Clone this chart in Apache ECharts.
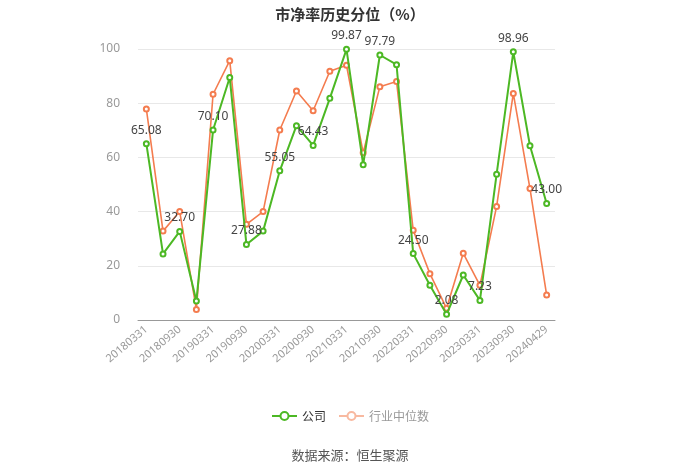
<!DOCTYPE html>
<html><head><meta charset="utf-8">
<script src="https://cdn.jsdelivr.net/npm/echarts@6/dist/echarts.min.js"></script>
<style>html,body{margin:0;padding:0;background:#fff}#c{width:700px;height:473px}</style>
</head><body><div id="c"></div>
<script>
var categories = ["20180331","20180630","20180930","20181231","20190331","20190630","20190930","20191231","20200331","20200630","20200930","20201231","20210331","20210630","20210930","20211231","20220331","20220630","20220930","20221231","20230331","20230630","20230930","20231231","20240429"];
var companyValues = [65.08,24.4,32.70,7.0,70.10,89.5,27.88,32.8,55.05,71.7,64.43,81.8,99.87,57.3,97.79,94.2,24.50,12.8,2.08,16.6,7.23,53.8,98.96,64.3,43.00];
var industryValues = [77.9,32.8,40.0,3.9,83.3,95.7,35.3,40.0,70.1,84.5,77.2,91.8,94.0,61.7,86.1,88.0,33.1,17.1,4.3,24.6,12.8,41.9,83.6,48.5,9.2];
var yTicks = [0,20,40,60,80,100];
var labelIdx = [0,2,4,6,8,10,12,14,16,18,20,22,24];

var chart = echarts.init(document.getElementById('c'));
var green = '#4cb824', orange = '#f47c4f';
chart.setOption({
  animation: false,
  title: {text: '市净率历史分位（%）', left: 'center', top: 2,
    textStyle: {fontSize: 15, fontWeight: 'bold', color: '#333', fontFamily: 'Noto Sans CJK SC'}},
  grid: {left: 138, right: 145, top: 49, bottom: 153},
  legend: {bottom: 46, left: 'center', itemWidth: 25, itemHeight: 10, itemGap: 12,
    textStyle: {fontSize: 12, fontFamily: 'Noto Sans CJK SC'},
    data: [
      {name: '公司', textStyle: {color: '#333'}},
      {name: '行业中位数', textStyle: {color: '#999'},
        itemStyle: {color: '#f8b9a0', borderColor: '#f8b9a0'},
        lineStyle: {color: '#f8b9a0', width: 2}}
    ]},
  graphic: [{type: 'text', left: 'center', top: 449,
    style: {text: '数据来源：恒生聚源', fontSize: 13, fill: '#555', fontFamily: 'Noto Sans CJK SC'}}],
  xAxis: {type: 'category', data: categories, boundaryGap: true,
    axisLine: {lineStyle: {color: '#999'}},
    axisTick: {alignWithLabel: true, interval: 1, lineStyle: {color: '#999'}},
    axisLabel: {interval: 1, rotate: 40, color: '#999', fontSize: 11, fontFamily: 'Noto Sans', margin: 8}},
  yAxis: {type: 'value', min: yTicks[0], max: yTicks[yTicks.length-1], interval: 20,
    axisLine: {show: false}, axisTick: {show: false},
    axisLabel: {color: '#999', fontSize: 12, fontFamily: 'Noto Sans', margin: 18},
    splitLine: {lineStyle: {color: '#e8e8e8'}}},
  series: [
    {name: '公司', type: 'line', data: companyValues.map(function(v,i){
        return {value: v, label: {show: labelIdx.indexOf(i) >= 0}};
      }),
      symbol: 'emptyCircle', symbolSize: 5, z: 3,
      lineStyle: {color: green, width: 2}, itemStyle: {color: green, borderWidth: 1.5},
      label: {position: 'top', distance: 4, color: '#444', fontSize: 12, fontFamily: 'Noto Sans',
        formatter: function(p){return p.value.toFixed(2);}}},
    {name: '行业中位数', type: 'line', data: industryValues,
      symbol: 'emptyCircle', symbolSize: 5, z: 2,
      lineStyle: {color: orange, width: 1.6}, itemStyle: {color: orange, borderWidth: 1.5}}
  ]
});
</script></body></html>
